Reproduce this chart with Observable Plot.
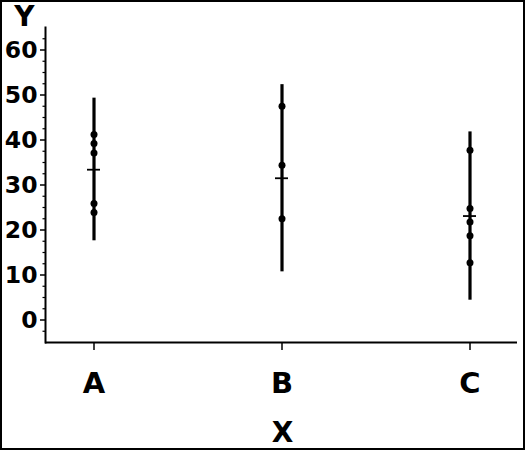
<!DOCTYPE html>
<html>
<head>
<meta charset="utf-8">
<script src="https://cdn.jsdelivr.net/npm/d3@7"></script>
<script src="https://cdn.jsdelivr.net/npm/@observablehq/plot@0.6"></script>
<style>
  html, body { margin: 0; padding: 0; background: #fff; }
  #wrap { position: relative; width: 525px; height: 450px; overflow: hidden; }
  #border { position: absolute; left: 0; top: 0; width: 525px; height: 450px; box-sizing: border-box; border: 2px solid #000; pointer-events: none; }
  svg { font-family: "DejaVu Sans", sans-serif; }
</style>
</head>
<body>
<div id="wrap"><div id="border"></div></div>
<script>
// Groups and summary (mean, lower and upper end of the bar)
const groups = ["A", "B", "C"];
const means = [33.4, 31.5, 23.1];
const lows = [17.6, 10.7, 4.4];
const highs = [49.3, 52.3, 41.8];

// Individual observations
const obsGroup = ["A", "A", "A", "A", "A", "B", "B", "B", "C", "C", "C", "C", "C"];
const obsValue = [41.2, 39.2, 37.1, 25.9, 23.9, 47.5, 34.4, 22.5, 37.7, 24.8, 21.8, 18.7, 12.7];

// Axis ticks
const yTicks = [0, 10, 20, 30, 40, 50, 60];
const yMinorTicks = [-2.5, 2.5, 5, 7.5, 12.5, 15, 17.5, 22.5, 25, 27.5, 32.5, 35, 37.5, 42.5, 45, 47.5, 52.5, 55, 57.5, 62.5];

const summary = groups.map((g, i) => ({x: g, mean: means[i], lo: lows[i], hi: highs[i]}));
const obs = obsGroup.map((g, i) => ({x: g, y: obsValue[i]}));

const chart = Plot.plot({
  width: 525,
  height: 450,
  marginLeft: 45,
  marginRight: 8,
  marginTop: 27,
  marginBottom: 108,
  style: {fontFamily: "DejaVu Sans, sans-serif", color: "#000", background: "transparent"},
  x: {type: "band", domain: groups, paddingInner: 0.9, paddingOuter: 0.2},
  y: {domain: [-5, 65]},
  marks: [
    Plot.axisY(yMinorTicks, {tickSize: 2.5, text: null, strokeWidth: 1.2}),
    Plot.axisY(yTicks, {tickSize: 5, tickPadding: 3, fontSize: 23.5, fontWeight: "bold", strokeWidth: 1.5, label: null}),
    Plot.axisX({tickSize: 8, tickPadding: 22, fontSize: 29, fontWeight: "bold", strokeWidth: 1.5, label: null}),
    Plot.ruleY([-5], {strokeWidth: 2}),
    Plot.frame({anchor: "left", strokeWidth: 2}),
    Plot.ruleX(summary, {x: "x", y1: "lo", y2: "hi", strokeWidth: 3.2}),
    Plot.tickY(summary, {x: "x", y: "mean", insetLeft: 3, insetRight: 3, strokeWidth: 1.8}),
    Plot.dot(obs, {x: "x", y: "y", r: 3.5, fill: "#000", stroke: "none"}),
    Plot.text(["Y"], {frameAnchor: "top-left", textAnchor: "middle", lineAnchor: "middle", dx: -21, dy: -10, fontSize: 28, fontWeight: "bold"}),
    Plot.text(["X"], {frameAnchor: "bottom", textAnchor: "middle", lineAnchor: "middle", dx: 1, dy: 91, fontSize: 28, fontWeight: "bold"})
  ]
});
document.getElementById("wrap").prepend(chart);
</script>
</body>
</html>
